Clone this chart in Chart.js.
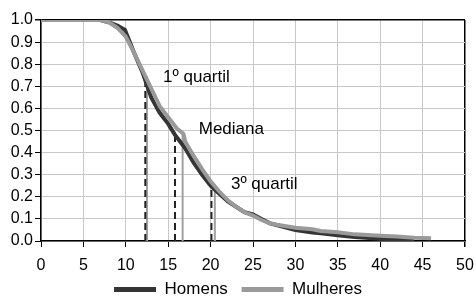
<!DOCTYPE html>
<html>
<head>
<meta charset="utf-8">
<script src="https://cdn.jsdelivr.net/npm/chart.js@4/dist/chart.umd.min.js"></script>
<style>
  html, body { margin: 0; padding: 0; background: #fff; }
  #wrap { width: 476px; height: 298px; }
</style>
</head>
<body>
<div id="wrap"><canvas id="survChart" width="476" height="298"></canvas></div>
<script>
// curvas de sobrevivência (anos, proporção)
const tempoHomens = [0, 7, 8, 9, 9.9, 11, 12, 13, 14, 15, 15.8, 17, 18, 19, 20, 21, 22, 23, 24, 25, 26, 27, 28, 30, 32, 33, 35, 37, 40, 42, 44];
const homens      = [1, 1, 0.99, 0.975, 0.955, 0.85, 0.76, 0.65, 0.58, 0.53, 0.48, 0.42, 0.355, 0.3, 0.25, 0.215, 0.18, 0.155, 0.13, 0.12, 0.1, 0.08, 0.07, 0.05, 0.038, 0.035, 0.026, 0.018, 0.01, 0.005, 0.005];
const tempoMulheres = [0, 7, 8, 9, 10, 11, 12, 13, 14, 15, 16, 16.8, 17, 18, 19, 20, 21, 22, 23, 24, 25, 26, 27, 28, 30, 32, 33, 35, 37, 40, 42, 44, 46];
const mulheres      = [1, 1, 0.99, 0.965, 0.925, 0.85, 0.77, 0.69, 0.61, 0.56, 0.51, 0.485, 0.45, 0.385, 0.325, 0.27, 0.225, 0.185, 0.155, 0.13, 0.115, 0.095, 0.08, 0.072, 0.06, 0.053, 0.045, 0.04, 0.03, 0.024, 0.02, 0.015, 0.012];

// quartis: posição no tempo e altura até a curva
const quartisHomens = [12.3, 15.8, 20.1];
const alturaHomens = [0.74, 0.48, 0.235];
const quartisMulheres = [12.5, 16.7, 20.5];
const alturaMulheres = [0.745, 0.485, 0.24];

const rotulos = ["1º quartil", "Mediana", "3º quartil"];
const rotuloX = [14.4, 18.6, 22.4];
const rotuloY = [0.74, 0.505, 0.255];

const series = ["Homens", "Mulheres"];
const cores = ["#353535", "#9a9a9a"];

const xTicks = [0, 5, 10, 15, 20, 25, 30, 35, 40, 45, 50];
const yTicks = [0, 0.1, 0.2, 0.3, 0.4, 0.5, 0.6, 0.7, 0.8, 0.9, 1.0];

const fonte = '"Liberation Sans", Arial, sans-serif';

function pontos(xs, ys) {
  return xs.map((x, i) => ({ x: x, y: ys[i] }));
}
function verticais(xs, tops) {
  const out = [];
  xs.forEach((x, i) => {
    out.push({ x: x, y: 0 }, { x: x, y: tops[i] }, { x: x, y: null });
  });
  return out;
}

const textoPlugin = {
  id: 'textoQuartis',
  afterDatasetsDraw(chart) {
    const { ctx, scales } = chart;
    ctx.save();
    ctx.font = '17px ' + fonte;
    ctx.fillStyle = '#000';
    ctx.textAlign = 'left';
    ctx.textBaseline = 'middle';
    rotulos.forEach((t, i) => {
      ctx.fillText(t, scales.x.getPixelForValue(rotuloX[i]), scales.y.getPixelForValue(rotuloY[i]));
    });
    ctx.restore();
  }
};

new Chart(document.getElementById('survChart'), {
  type: 'line',
  data: {
    datasets: [
      {
        label: series[0],
        data: pontos(tempoHomens, homens),
        borderColor: cores[0],
        backgroundColor: cores[0],
        borderWidth: 4,
        pointRadius: 0,
        tension: 0,
        order: 2
      },
      {
        label: series[1],
        data: pontos(tempoMulheres, mulheres),
        borderColor: cores[1],
        backgroundColor: cores[1],
        borderWidth: 4,
        pointRadius: 0,
        tension: 0,
        order: 1
      },
      {
        label: 'q-homens',
        data: verticais(quartisHomens, alturaHomens),
        borderColor: '#222',
        borderWidth: 2,
        borderDash: [7, 4],
        pointRadius: 0,
        spanGaps: false,
        order: 3
      },
      {
        label: 'q-mulheres',
        data: verticais(quartisMulheres, alturaMulheres),
        borderColor: '#a0a0a0',
        borderWidth: 2,
        pointRadius: 0,
        spanGaps: false,
        order: 3
      }
    ]
  },
  options: {
    responsive: false,
    animation: false,
    layout: { padding: { top: 20, right: 0, left: 0, bottom: -10 } },
    plugins: {
      tooltip: { enabled: false },
      legend: {
        position: 'bottom',
        labels: {
          boxWidth: 42,
          boxHeight: 5,
          padding: 9,
          color: '#000',
          font: { size: 17, family: fonte },
          generateLabels: () => series.map((s, i) => ({
            text: i < series.length - 1 ? s + ' ' : s,
            fillStyle: cores[i],
            strokeStyle: cores[i],
            lineWidth: 0,
            datasetIndex: i,
            hidden: false,
            fontColor: '#000'
          }))
        }
      }
    },
    scales: {
      x: {
        type: 'linear',
        min: 0,
        max: 50,
        afterBuildTicks: (s) => { s.ticks = xTicks.map(v => ({ value: v })); },
        afterFit: (s) => { s.height = 31; s.paddingLeft = 0; s.paddingRight = 11; },
        ticks: {
          color: '#000',
          padding: 9,
          autoSkip: false,
          maxRotation: 0,
          font: { size: 16, family: fonte }
        },
        grid: {
          color: (c) => (c.tick && c.tick.value === 50 ? '#000' : '#c8c8c8'),
          lineWidth: (c) => (c.tick && c.tick.value === 50 ? 1.5 : 1),
          tickColor: '#000',
          tickLength: 6
        },
        border: { color: '#000', width: 1.5 }
      },
      y: {
        min: 0,
        max: 1,
        afterBuildTicks: (s) => { s.ticks = yTicks.map(v => ({ value: v })); },
        afterFit: (s) => { s.width = 41; },
        ticks: {
          color: '#000',
          padding: 2,
          autoSkip: false,
          callback: (v) => Number(v).toFixed(1),
          font: { size: 16, family: fonte }
        },
        grid: {
          color: (c) => (c.tick && c.tick.value === 1 ? '#000' : '#c8c8c8'),
          lineWidth: (c) => (c.tick && c.tick.value === 1 ? 1.5 : 1),
          tickColor: '#000',
          tickLength: 6
        },
        border: { color: '#000', width: 1.5 }
      }
    }
  },
  plugins: [textoPlugin]
});
</script>
</body>
</html>
